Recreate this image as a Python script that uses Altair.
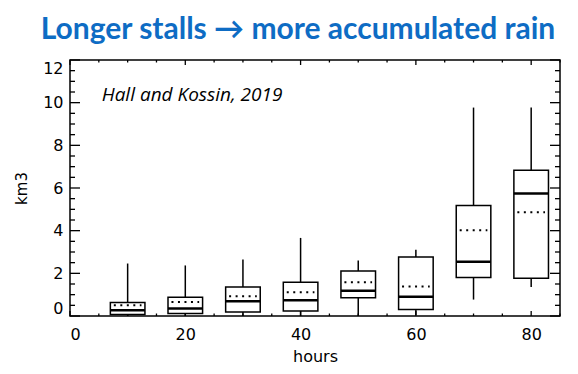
import altair as alt
import pandas as pd

# ---- data ----
hours  = [10, 20, 30, 40, 50, 60, 70, 80]
wmin   = [0.0, 0.0, 0.0, 0.0, 0.0, 0.05, 0.77, 1.36]
q1     = [0.07, 0.12, 0.19, 0.24, 0.85, 0.30, 1.80, 1.77]
median = [0.27, 0.35, 0.69, 0.74, 1.18, 0.90, 2.54, 5.74]
mean   = [0.50, 0.66, 0.93, 1.11, 1.58, 1.38, 4.02, 4.86]
q3     = [0.63, 0.88, 1.36, 1.58, 2.11, 2.77, 5.18, 6.83]
wmax   = [2.46, 2.37, 2.65, 3.66, 2.60, 3.11, 9.77, 9.77]

x_major = [0, 20, 40, 60, 80]
x_minor = [5, 10, 15, 25, 30, 35, 45, 50, 55, 65, 70, 75, 85]
y_major = [0, 2, 4, 6, 8, 10, 12]
y_minor = [0.5, 1, 1.5, 2.5, 3, 3.5, 4.5, 5, 5.5, 6.5, 7, 7.5, 8.5, 9, 9.5,
           10.5, 11, 11.5]

W, H = 490, 256
HALF = 3.0      # half box width (hours)
MHALF = 2.4     # half width of mean dotted line

df = pd.DataFrame(dict(h=hours, wmin=wmin, q1=q1, med=median, mean=mean,
                       q3=q3, wmax=wmax))
df["xl"] = df["h"] - HALF
df["xr"] = df["h"] + HALF
df["ml"] = df["h"] - MHALF
df["mr"] = df["h"] + MHALF

FONT = "DejaVu Sans"
xs = alt.Scale(domain=[0, 85], nice=False, zero=False)
ys = alt.Scale(domain=[0, 12], nice=False, zero=False)

base = alt.Chart(df)

boxes = base.mark_rect(fill="white", stroke="black", strokeWidth=1.5).encode(
    x=alt.X("xl:Q", scale=xs,
            axis=alt.Axis(values=x_major, tickSize=0, domain=False, grid=False,
                          labelFont=FONT, labelFontSize=16, labelColor="black",
                          labelPadding=10, title="hours", titleFont=FONT,
                          titleFontSize=16, titleFontWeight="normal",
                          titleColor="black", titlePadding=6)),
    x2="xr:Q",
    y=alt.Y("q1:Q", scale=ys,
            axis=alt.Axis(values=y_major, tickSize=0, domain=False, grid=False,
                          labelFont=FONT, labelFontSize=16, labelColor="black",
                          labelPadding=7, labelFlush=True, title="km3",
                          titleFont=FONT, titleFontSize=15,
                          titleFontWeight="normal", titleColor="black",
                          titlePadding=13)),
    y2="q3:Q",
)

w_up = base.mark_rule(color="black", strokeWidth=1.5).encode(
    x=alt.X("h:Q", scale=xs), y=alt.Y("q3:Q", scale=ys), y2="wmax:Q")
w_dn = base.mark_rule(color="black", strokeWidth=1.5).encode(
    x=alt.X("h:Q", scale=xs), y=alt.Y("wmin:Q", scale=ys), y2="q1:Q")

med = base.mark_rule(color="black", strokeWidth=2.5).encode(
    x=alt.X("xl:Q", scale=xs), x2="xr:Q", y=alt.Y("med:Q", scale=ys))
mn = base.mark_rule(color="black", strokeWidth=2, strokeDash=[2, 4.5]).encode(
    x=alt.X("ml:Q", scale=xs), x2="mr:Q", y=alt.Y("mean:Q", scale=ys))

# inward ticks
xmaj = pd.DataFrame({"v": x_major})
xmin_ = pd.DataFrame({"v": x_minor})
ymaj = pd.DataFrame({"v": y_major})
ymin_ = pd.DataFrame({"v": y_minor})

def xticks(d, ln):
    b = alt.Chart(d).mark_rule(color="black", strokeWidth=1.3)
    return (b.encode(x=alt.X("v:Q", scale=xs), y=alt.value(H), y2=alt.value(H - ln)) +
            b.encode(x=alt.X("v:Q", scale=xs), y=alt.value(0), y2=alt.value(ln)))

def yticks(d, ln):
    b = alt.Chart(d).mark_rule(color="black", strokeWidth=1.3)
    return (b.encode(y=alt.Y("v:Q", scale=ys), x=alt.value(0), x2=alt.value(ln)) +
            b.encode(y=alt.Y("v:Q", scale=ys), x=alt.value(W), x2=alt.value(W - ln)))

note = alt.Chart(pd.DataFrame({"x": [5.5], "y": [10.07],
                               "t": ["Hall and Kossin, 2019"]})).mark_text(
    align="left", baseline="alphabetic", font="Open Sans", fontSize=19,
    fontStyle="italic", color="black").encode(
    x=alt.X("x:Q", scale=xs), y=alt.Y("y:Q", scale=ys), text="t:N")

chart = alt.layer(
    xticks(xmaj, 5), xticks(xmin_, 2.5), yticks(ymaj, 10), yticks(ymin_, 5),
    w_up, w_dn, boxes, med, mn, note
).properties(
    width=W, height=H,
    title=alt.TitleParams("Longer stalls → more accumulated rain",
                          font="Lato", fontSize=30, fontWeight="bold",
                          color="#0E6CC4", anchor="middle", dx=-17, offset=14),
    autosize=alt.AutoSizeParams(type="none"),
    padding={"left": 62, "top": 52, "right": 10, "bottom": 50},
).configure_view(stroke="black", strokeWidth=1.5)

chart.save("out.html", embed_options={"renderer": "svg", "actions": False})
